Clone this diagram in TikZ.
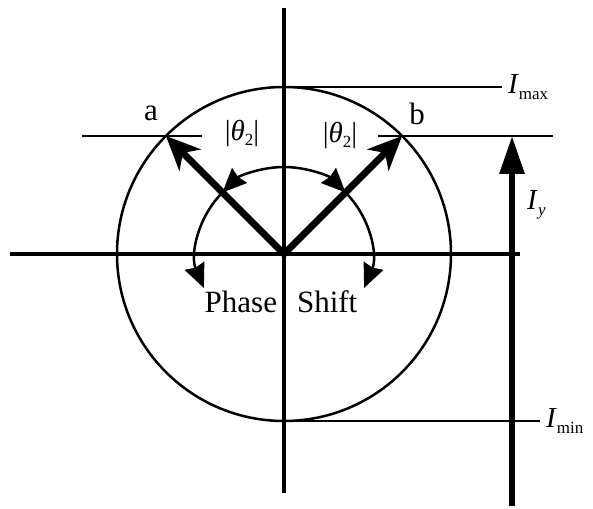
\documentclass[tikz,border=0pt]{standalone}
\usepackage{fontspec}
\setmainfont{Liberation Serif}
\usetikzlibrary{arrows.meta,calc}
\newcommand{\lsub}[1]{\raisebox{-0.45ex}{\fontsize{17}{20}\selectfont #1}}
\begin{document}
\begin{tikzpicture}[x=1pt,y=1pt,
  axis/.style={line width=4.5pt},
  guide/.style={line width=2pt},
  vec/.style={line width=7pt,-{Stealth[length=34pt 0 0,width=30pt 0,inset=10pt 0]}},
  turn/.style={line width=2.5pt,-{Stealth[length=24pt 0 0,width=21pt 0,inset=2pt 0]}},
  lbl/.style={font=\fontsize{29}{33}\selectfont,inner sep=1pt}]
  \useasboundingbox (0,0) rectangle (593,508);
  \coordinate (O) at (284,254);
  \coordinate (a) at ($(O)+(135:167)$);
  \coordinate (b) at ($(O)+(45:167)$);
  \coordinate (top) at ($(O)+(0,167)$);
  \coordinate (bot) at ($(O)+(0,-167)$);
  % axes and circle
  \draw[axis] (284,500) -- (284,15);
  \draw[axis] (10,254) -- (520,254);
  \draw[line width=2.5pt] (O) circle (167);
  % level lines
  \draw[guide] (82,372) -- (202,372);
  \draw[guide] (378,372) -- (553,372);
  \draw[guide] (top) -- (502,421) node[lbl,right=4pt] (imax) {\textit{I}\lsub{max}};
  \draw[guide] (bot) -- (540,87) node[lbl,right=4pt] (imin) {\textit{I}\lsub{min}};
  % vectors
  \draw[vec] (O) -- (a);
  \draw[vec] (O) -- (b);
  \draw[line width=6pt,-{Triangle[length=38pt 0 0,width=24pt 0]}] (512,2) -- (512,372);
  % phase shift arcs
  \draw[turn] ($(O)+(90:87)$) arc[start angle=90,end angle=135,radius=87];
  \draw[turn] ($(O)+(90:87)$) arc[start angle=90,end angle=45,radius=87];
  \draw[turn] ($(O)+(135:87)$) arc[start angle=135,end angle=203,radius=87];
  \draw[turn] ($(O)+(45:87)$) arc[start angle=45,end angle=-23,radius=87];
  % labels
  \node[lbl,font=\fontsize{31}{36}\selectfont] (la) at (151,395) {a};
  \node[lbl,font=\fontsize{31}{36}\selectfont] (lb) at (417,394) {b};
  \node[lbl] (th1) at (242,375) {|\textit{θ}\lsub{2}|};
  \node[lbl] (th2) at (340,373) {|\textit{θ}\lsub{2}|};
  \node[lbl,right] (iy) at (526,303) {\textit{I}\lsub{\textit{y}}};
  \node[lbl,font=\fontsize{31}{36}\selectfont] (ps) at (281,206) {Phase\hspace{20pt}Shift};
\end{tikzpicture}
\end{document}
